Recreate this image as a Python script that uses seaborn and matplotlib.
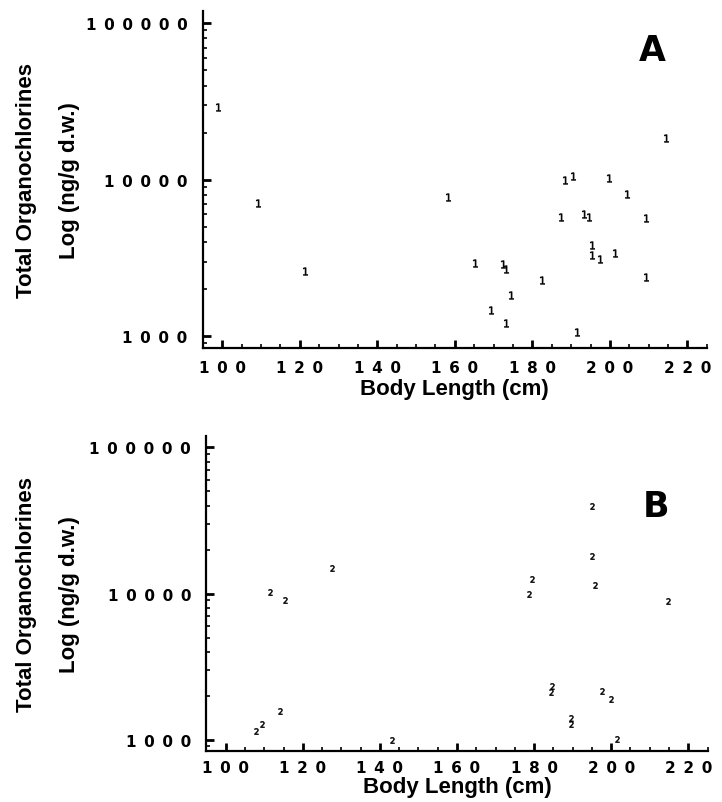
import numpy as np
import pandas as pd
import matplotlib
matplotlib.use("Agg")
import matplotlib.pyplot as plt
import matplotlib.ticker as mticker
from matplotlib.font_manager import FontProperties
import seaborn as sns

# panel A (group 1): body length (cm) vs total organochlorines (ng/g d.w.)
length_a = [99.0, 109.2, 121.3, 158.3, 165.2, 169.2, 172.3, 173.2, 173.2, 174.4,
            182.4, 187.5, 188.4, 190.5, 191.4, 193.3, 194.5, 195.5, 195.5, 197.4,
            199.7, 201.4, 204.4, 209.4, 209.4, 214.4]
oc_a = [29200, 7100, 2600, 7800, 2950, 1470, 2880, 2670, 1220, 1830,
        2270, 5800, 10000, 10600, 1060, 6000, 5800, 3850, 3280, 3100,
        10300, 3400, 8100, 5650, 2400, 18600]

# panel B (group 2)
length_b = [107.8, 109.3, 114.2, 111.4, 115.4, 127.5, 143.0, 195.0, 195.0, 195.7,
            179.5, 178.6, 214.7, 184.6, 184.5, 197.7, 200.0, 189.6, 189.6, 201.5]
oc_b = [1150, 1270, 1580, 10300, 9050, 14900, 990, 39900, 18100, 11400,
        12500, 9900, 8900, 2320, 2110, 2150, 1900, 1410, 1270, 1015]

x_ticks = [100, 120, 140, 160, 180, 200, 220]
y_ticks = [1000, 10000, 100000]
xlabel = "Body Length (cm)"
ylabel = "Total Organochlorines\nLog (ng/g d.w.)"

sns.set_style("ticks")
plt.rcParams["text.color"] = "black"
plt.rcParams["axes.labelcolor"] = "black"
plt.rcParams["xtick.color"] = "black"
plt.rcParams["ytick.color"] = "black"

fig = plt.figure(figsize=(7.22, 8.03), dpi=100)
ax_a = fig.add_axes([0.281, 0.5654, 0.698, 0.4198])
ax_b = fig.add_axes([0.286, 0.0639, 0.694, 0.392])

tick_font = FontProperties(family="DejaVu Sans", weight="bold", size=11)
label_font = {"family": "Liberation Sans", "weight": "bold", "size": 16,
              "color": "black"}


def spaced(v, pos):
    # the scan uses very wide letter spacing on the tick numbers
    return "\u2002".join(str(int(round(v))))


def style_axes(ax, df, marker, size, letter, letter_xy, xlab_y, ylab_x, xpad):
    sns.scatterplot(data=df, x="length", y="oc", marker=marker, s=size,
                    color="black", edgecolor="black", linewidth=0.4,
                    legend=False, ax=ax)
    ax.set_yscale("log")
    ax.set_xlim(95, 225)
    ax.set_ylim(840, 120000)
    ax.xaxis.set_major_locator(mticker.FixedLocator(x_ticks))
    ax.xaxis.set_minor_locator(mticker.MultipleLocator(5))
    ax.yaxis.set_major_locator(mticker.FixedLocator(y_ticks))
    ax.yaxis.set_minor_locator(mticker.LogLocator(base=10, subs=np.arange(2, 10)))
    ax.yaxis.set_minor_formatter(mticker.NullFormatter())
    ax.xaxis.set_major_formatter(mticker.FuncFormatter(spaced))
    ax.yaxis.set_major_formatter(mticker.FuncFormatter(spaced))
    ax.tick_params(axis="both", which="major", direction="in", length=6, width=2,
                   color="black", labelcolor="black")
    ax.tick_params(axis="both", which="minor", direction="in", length=3, width=1.2,
                   color="black")
    ax.tick_params(axis="x", which="major", pad=xpad)
    ax.tick_params(axis="y", which="major", pad=11)
    for lab in ax.get_xticklabels() + ax.get_yticklabels():
        lab.set_fontproperties(tick_font)
    sns.despine(ax=ax)
    for sp in ["left", "bottom"]:
        ax.spines[sp].set_linewidth(1.6)
        ax.spines[sp].set_color("black")
    ax.set_xlabel(xlabel, fontdict=label_font)
    ax.set_ylabel(ylabel, fontdict=label_font, linespacing=2.4)
    ax.xaxis.set_label_coords(0.5, xlab_y)
    ax.yaxis.set_label_coords(ylab_x, 0.5)
    ax.text(letter_xy[0], letter_xy[1], letter, transform=ax.transAxes,
            ha="center", va="center", fontsize=25, fontweight="bold",
            family="DejaVu Sans", color="black")


df_a = pd.DataFrame({"length": length_a, "oc": oc_a})
df_b = pd.DataFrame({"length": length_b, "oc": oc_b})

style_axes(ax_a, df_a, r"$\mathit{1}$", 30, "A", (0.891, 0.884), -0.09, -0.243, 9)
style_axes(ax_b, df_b, r"$\mathit{2}$", 20, "B", (0.897, 0.778), -0.082, -0.252, 7)

fig.savefig("out.png", dpi=100, facecolor="white")
